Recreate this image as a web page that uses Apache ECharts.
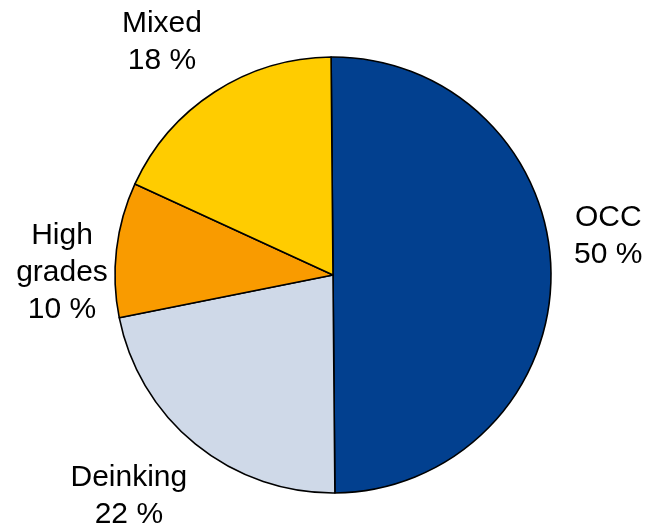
<!DOCTYPE html>
<html>
<head>
<meta charset="utf-8">
<script src="https://cdn.jsdelivr.net/npm/echarts@6/dist/echarts.min.js"></script>
<style>
  html, body { margin: 0; padding: 0; background: #fff; }
  #chart { width: 650px; height: 532px; }
</style>
</head>
<body>
<div id="chart"></div>
<script>
// Recovered paper grades share (%)
const categories = ['OCC', 'Deinking', 'High grades', 'Mixed'];
const shares = [50, 22, 10, 18];
const colors = ['#02408f', '#cfd9e8', '#f99b00', '#ffcc00'];

// Pie geometry
const CX = 333, CY = 275, R = 218, START = 90.5;
// Label placement: distance from the pie centre and angular nudge (degrees) per slice
const labelDist = [278, 301, 271, 289];
const labelNudge = [7.6, -3.6, 6.2, 3.4];

const total = shares.reduce((a, b) => a + b, 0);
const midAngles = [];
let acc = 0;
shares.forEach(v => {
  const a0 = START - acc / total * 360;
  acc += v;
  const a1 = START - acc / total * 360;
  midAngles.push((a0 + a1) / 2);
});

const chart = echarts.init(document.getElementById('chart'), null, { renderer: 'canvas' });
chart.setOption({
  animation: false,
  backgroundColor: '#ffffff',
  series: [{
    type: 'pie',
    center: [CX, CY],
    radius: R,
    startAngle: START,
    clockwise: true,
    avoidLabelOverlap: false,
    data: categories.map((name, i) => ({
      name: name,
      value: shares[i],
      itemStyle: { color: colors[i] }
    })),
    itemStyle: { borderColor: '#000', borderWidth: 1.6 },
    emphasis: { disabled: true },
    label: {
      show: true,
      position: 'outside',
      formatter: p => p.name.replace(' ', '\n') + '\n' + p.value + ' %',
      fontFamily: 'Liberation Sans, Arial, sans-serif',
      fontSize: 30,
      lineHeight: 37,
      color: '#000',
      align: 'center'
    },
    labelLine: { show: false },
    labelLayout: function (p) {
      const i = p.dataIndex;
      const ang = (midAngles[i] + labelNudge[i]) * Math.PI / 180;
      return {
        x: CX + labelDist[i] * Math.cos(ang),
        y: CY - labelDist[i] * Math.sin(ang),
        align: 'center',
        verticalAlign: 'middle'
      };
    }
  }]
});
</script>
</body>
</html>
